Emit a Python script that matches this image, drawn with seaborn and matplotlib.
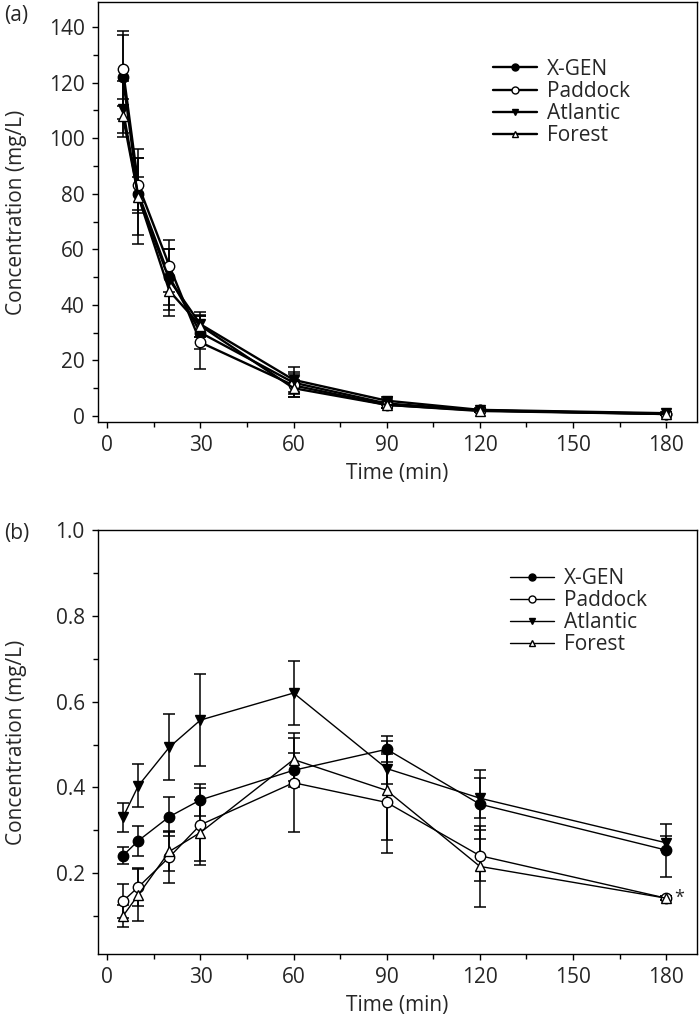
import matplotlib
matplotlib.use("Agg")
import matplotlib.pyplot as plt
from matplotlib.ticker import MultipleLocator, FormatStrFormatter
import seaborn as sns

sns.set_theme(style="ticks")
plt.rcParams['font.family'] = ['Open Sans', 'DejaVu Sans']

time = [5, 10, 20, 30, 60, 90, 120, 180]
series = ["X-GEN", "Paddock", "Atlantic", "Forest"]

# Panel (a)
a_xgen = [122, 80, 50, 30, 12, 4.5, 2.0, 0.8]
a_paddock = [125, 83, 54, 26.5, 11, 4.0, 2.0, 0.7]
a_atlantic = [110.5, 79, 49, 33, 13, 5.5, 2.2, 1.0]
a_forest = [108, 79, 45, 32.5, 10, 4.0, 1.8, 0.7]
a_xgen_err = [15, 6, 10, 6, 4, 1.5, 0.6, 0.3]
a_paddock_err = [13.5, 10, 9.5, 9.5, 4, 1.2, 0.6, 0.3]
a_atlantic_err = [10, 14, 11, 4.5, 4.5, 1.5, 0.6, 0.3]
a_forest_err = [6, 17, 9, 4, 3, 1.2, 0.5, 0.3]

# Panel (b)
b_xgen = [0.241, 0.276, 0.332, 0.371, 0.440, 0.489, 0.361, 0.254]
b_paddock = [0.135, 0.168, 0.238, 0.313, 0.411, 0.365, 0.241, 0.142]
b_atlantic = [0.330, 0.404, 0.494, 0.557, 0.620, 0.444, 0.375, 0.271]
b_forest = [0.100, 0.150, 0.251, 0.295, 0.465, 0.393, 0.216, 0.142]
b_xgen_err = [0.020, 0.035, 0.045, 0.038, 0.040, 0.030, 0.080, 0.062]
b_paddock_err = [0.040, 0.045, 0.060, 0.085, 0.115, 0.118, 0.060, 0.004]
b_atlantic_err = [0.033, 0.050, 0.076, 0.107, 0.074, 0.035, 0.047, 0.017]
b_forest_err = [0.025, 0.060, 0.045, 0.075, 0.050, 0.115, 0.095, 0.004]

styles = {
    "X-GEN": dict(marker="o", mfc="black"),
    "Paddock": dict(marker="o", mfc="white"),
    "Atlantic": dict(marker="v", mfc="black"),
    "Forest": dict(marker="^", mfc="white"),
}

FS = 15
fig = plt.figure(figsize=(7.0, 10.32), dpi=100)
ax_a = fig.add_axes([0.140, 0.591, 0.856, 0.407])
ax_b = fig.add_axes([0.140, 0.0756, 0.856, 0.4109])

panels = [
    (ax_a, [a_xgen, a_paddock, a_atlantic, a_forest],
     [a_xgen_err, a_paddock_err, a_atlantic_err, a_forest_err], 1.7),
    (ax_b, [b_xgen, b_paddock, b_atlantic, b_forest],
     [b_xgen_err, b_paddock_err, b_atlantic_err, b_forest_err], 1.0),
]

for ax, vals, errs, lw in panels:
    for name, v, e in zip(series, vals, errs):
        st = styles[name]
        ax.errorbar(time, v, yerr=e, fmt="none", ecolor="black",
                    elinewidth=1.1, capsize=4.3, capthick=1.1, zorder=2)
        sns.lineplot(x=time, y=v, ax=ax, color="black", linewidth=lw,
                     marker=st["marker"], markerfacecolor=st["mfc"],
                     markeredgecolor="black", markeredgewidth=1.0,
                     markersize=7.5, label=name, zorder=3)
    ax.set_xlim(-3, 190)
    ax.xaxis.set_major_locator(MultipleLocator(30))
    ax.xaxis.set_minor_locator(MultipleLocator(15))
    ax.set_xlabel("Time (min)", fontsize=FS, labelpad=5)
    ax.set_ylabel("Concentration (mg/L)", fontsize=FS)
    ax.yaxis.set_label_coords(-0.118, 0.5)
    ax.tick_params(axis="both", which="major", direction="out", length=4.5,
                   width=1, labelsize=FS, color="black", pad=5)
    ax.tick_params(axis="both", which="minor", direction="out", length=3.5,
                   width=1, color="black")
    for sp in ax.spines.values():
        sp.set_visible(True)
        sp.set_color("black")
        sp.set_linewidth(1.0)

ax_a.set_ylim(-2.2, 149)
ax_a.yaxis.set_major_locator(MultipleLocator(20))
ax_a.yaxis.set_minor_locator(MultipleLocator(10))

ax_b.set_ylim(0.012, 1.0)
ax_b.yaxis.set_major_locator(MultipleLocator(0.2))
ax_b.yaxis.set_major_formatter(FormatStrFormatter("%.1f"))
ax_b.yaxis.set_minor_locator(MultipleLocator(0.1))
ax_b.text(182.5, 0.142, "*", fontsize=13, va="center", ha="left")

for ax, anchor in [(ax_a, (0.659, 0.865)), (ax_b, (0.688, 0.91))]:
    ax.legend(loc="upper left", bbox_to_anchor=anchor, frameon=False,
              fontsize=FS, handlelength=2.1, handletextpad=0.5,
              labelspacing=0.05, markerscale=0.67, borderaxespad=0,
              borderpad=0)

fig.text(0.006, 0.985, "(a)", fontsize=FS, va="center", ha="left")
fig.text(0.006, 0.4835, "(b)", fontsize=FS, va="center", ha="left")

fig.savefig("out.png", dpi=100)
